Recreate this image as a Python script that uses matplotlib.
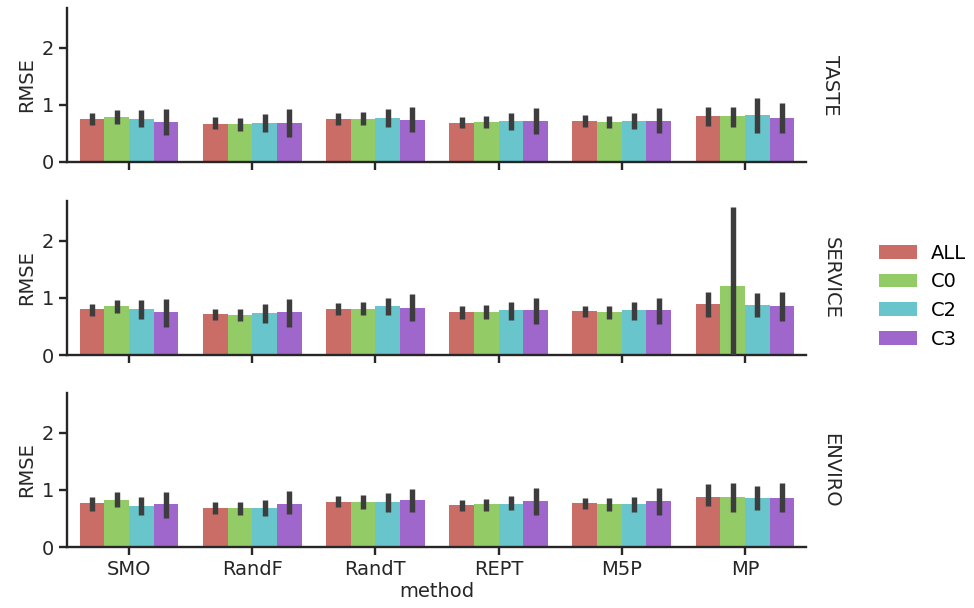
import colorsys

import matplotlib
matplotlib.use("Agg")
import matplotlib.pyplot as plt
from matplotlib.patches import Patch

# ── dados ─────────────────────────────────────────────────
methods = ["SMO", "RandF", "RandT", "REPT", "M5P", "MP"]
groups = ["ALL", "C0", "C2", "C3"]
aspects = ["TASTE", "SERVICE", "ENVIRO"]

# linhas = métodos, colunas = grupos (ALL, C0, C2, C3)
taste_mean = [[0.75, 0.78, 0.75, 0.70],
              [0.67, 0.66, 0.68, 0.68],
              [0.75, 0.75, 0.77, 0.74],
              [0.69, 0.70, 0.71, 0.71],
              [0.71, 0.70, 0.71, 0.71],
              [0.81, 0.81, 0.82, 0.77]]
taste_lo = [[0.65, 0.67, 0.62, 0.47],
            [0.57, 0.55, 0.53, 0.44],
            [0.65, 0.64, 0.62, 0.52],
            [0.59, 0.59, 0.56, 0.49],
            [0.61, 0.59, 0.57, 0.50],
            [0.63, 0.62, 0.51, 0.51]]
taste_hi = [[0.86, 0.91, 0.91, 0.92],
            [0.78, 0.77, 0.84, 0.92],
            [0.86, 0.87, 0.92, 0.97],
            [0.78, 0.81, 0.85, 0.94],
            [0.82, 0.81, 0.85, 0.94],
            [0.96, 0.97, 1.13, 1.03]]

service_mean = [[0.80, 0.855, 0.80, 0.755],
                [0.715, 0.71, 0.73, 0.755],
                [0.815, 0.815, 0.855, 0.825],
                [0.755, 0.755, 0.785, 0.785],
                [0.77, 0.755, 0.785, 0.785],
                [0.90, 1.21, 0.885, 0.86]]
service_lo = [[0.68, 0.73, 0.64, 0.49],
              [0.62, 0.60, 0.565, 0.49],
              [0.71, 0.70, 0.70, 0.59],
              [0.64, 0.64, 0.62, 0.55],
              [0.66, 0.64, 0.61, 0.55],
              [0.67, 0.0, 0.66, 0.59]]
service_hi = [[0.90, 0.97, 0.96, 0.99],
              [0.815, 0.815, 0.90, 0.99],
              [0.915, 0.93, 1.005, 1.075],
              [0.855, 0.87, 0.93, 1.005],
              [0.86, 0.86, 0.93, 1.005],
              [1.105, 2.59, 1.095, 1.105]]

enviro_mean = [[0.77, 0.83, 0.725, 0.75],
               [0.69, 0.68, 0.69, 0.76],
               [0.795, 0.795, 0.785, 0.83],
               [0.735, 0.76, 0.76, 0.805],
               [0.77, 0.75, 0.76, 0.805],
               [0.88, 0.87, 0.855, 0.865]]
enviro_lo = [[0.64, 0.70, 0.56, 0.50],
             [0.58, 0.56, 0.55, 0.575],
             [0.695, 0.66, 0.62, 0.61],
             [0.63, 0.63, 0.65, 0.56],
             [0.66, 0.63, 0.62, 0.56],
             [0.72, 0.62, 0.65, 0.61]]
enviro_hi = [[0.87, 0.96, 0.87, 0.97],
             [0.785, 0.795, 0.825, 0.99],
             [0.895, 0.91, 0.94, 1.02],
             [0.825, 0.85, 0.895, 1.04],
             [0.855, 0.855, 0.88, 1.04],
             [1.105, 1.13, 1.07, 1.13]]

panels = [(taste_mean, taste_lo, taste_hi),
          (service_mean, service_lo, service_hi),
          (enviro_mean, enviro_lo, enviro_hi)]


def hls_desat(n, desat=0.75):
    """Paleta 'hls' dessaturada, como o seaborn faz no barplot."""
    out = []
    for i in range(n):
        h = (0.01 + i / n) % 1
        r, g, b = colorsys.hls_to_rgb(h, 0.6, 0.65)
        hh, ll, ss = colorsys.rgb_to_hls(r, g, b)
        out.append(colorsys.hls_to_rgb(hh, ll, ss * desat))
    return out


colors = hls_desat(len(groups))
ERR_COLOR = "#3d3d3d"
AX_COLOR = "#262626"
FS = 14

plt.rcParams["font.family"] = "DejaVu Sans"
plt.rcParams["font.size"] = FS

fig = plt.figure(figsize=(9.74, 6.08), dpi=100)
left, width, height = 0.0693, 0.7587, 0.2533
bottoms = [0.7336, 0.4161, 0.1003]

n_g = len(groups)
bar_w = 0.8 / n_g
axes = []
for row, (mean, lo, hi) in enumerate(panels):
    ax = fig.add_axes([left, bottoms[row], width, height])
    axes.append(ax)
    for j, g in enumerate(groups):
        offs = -0.4 + bar_w * (j + 0.5)
        xs = [i + offs for i in range(len(methods))]
        ax.bar(xs, [m[j] for m in mean], width=bar_w,
               color=colors[j], linewidth=0, label=g)
        ax.vlines(xs, [l[j] for l in lo], [h[j] for h in hi],
                  color=ERR_COLOR, linewidth=3.9, zorder=3)

    ax.set_xlim(-0.5, len(methods) - 0.5)
    ax.set_ylim(0, 2.7)
    ax.set_yticks([0, 1, 2])
    ax.set_xticks(range(len(methods)))
    ax.set_ylabel("RMSE", fontsize=FS, color=AX_COLOR)
    for s in ("top", "right"):
        ax.spines[s].set_visible(False)
    for s in ("left", "bottom"):
        ax.spines[s].set_linewidth(1.7)
        ax.spines[s].set_color(AX_COLOR)
    ax.tick_params(width=1.7, length=6, colors=AX_COLOR, labelsize=FS)
    if row < len(panels) - 1:
        ax.set_xticklabels([])
    else:
        ax.set_xticklabels(methods)
        ax.set_xlabel("method", fontsize=FS, color=AX_COLOR, labelpad=2)

    # título de margem à direita
    ax.text(1.02, 0.5, aspects[row], transform=ax.transAxes,
            rotation=270, ha="left", va="center", fontsize=FS,
            color=AX_COLOR)

handles = [Patch(facecolor=c, edgecolor="none", label=g)
           for c, g in zip(colors, groups)]
fig.legend(handles=handles, loc="center left",
           bbox_to_anchor=(0.884, 0.513), frameon=False, fontsize=FS,
           handlelength=2.0, handleheight=0.7, handletextpad=0.7)

fig.savefig("out.png", dpi=100)
